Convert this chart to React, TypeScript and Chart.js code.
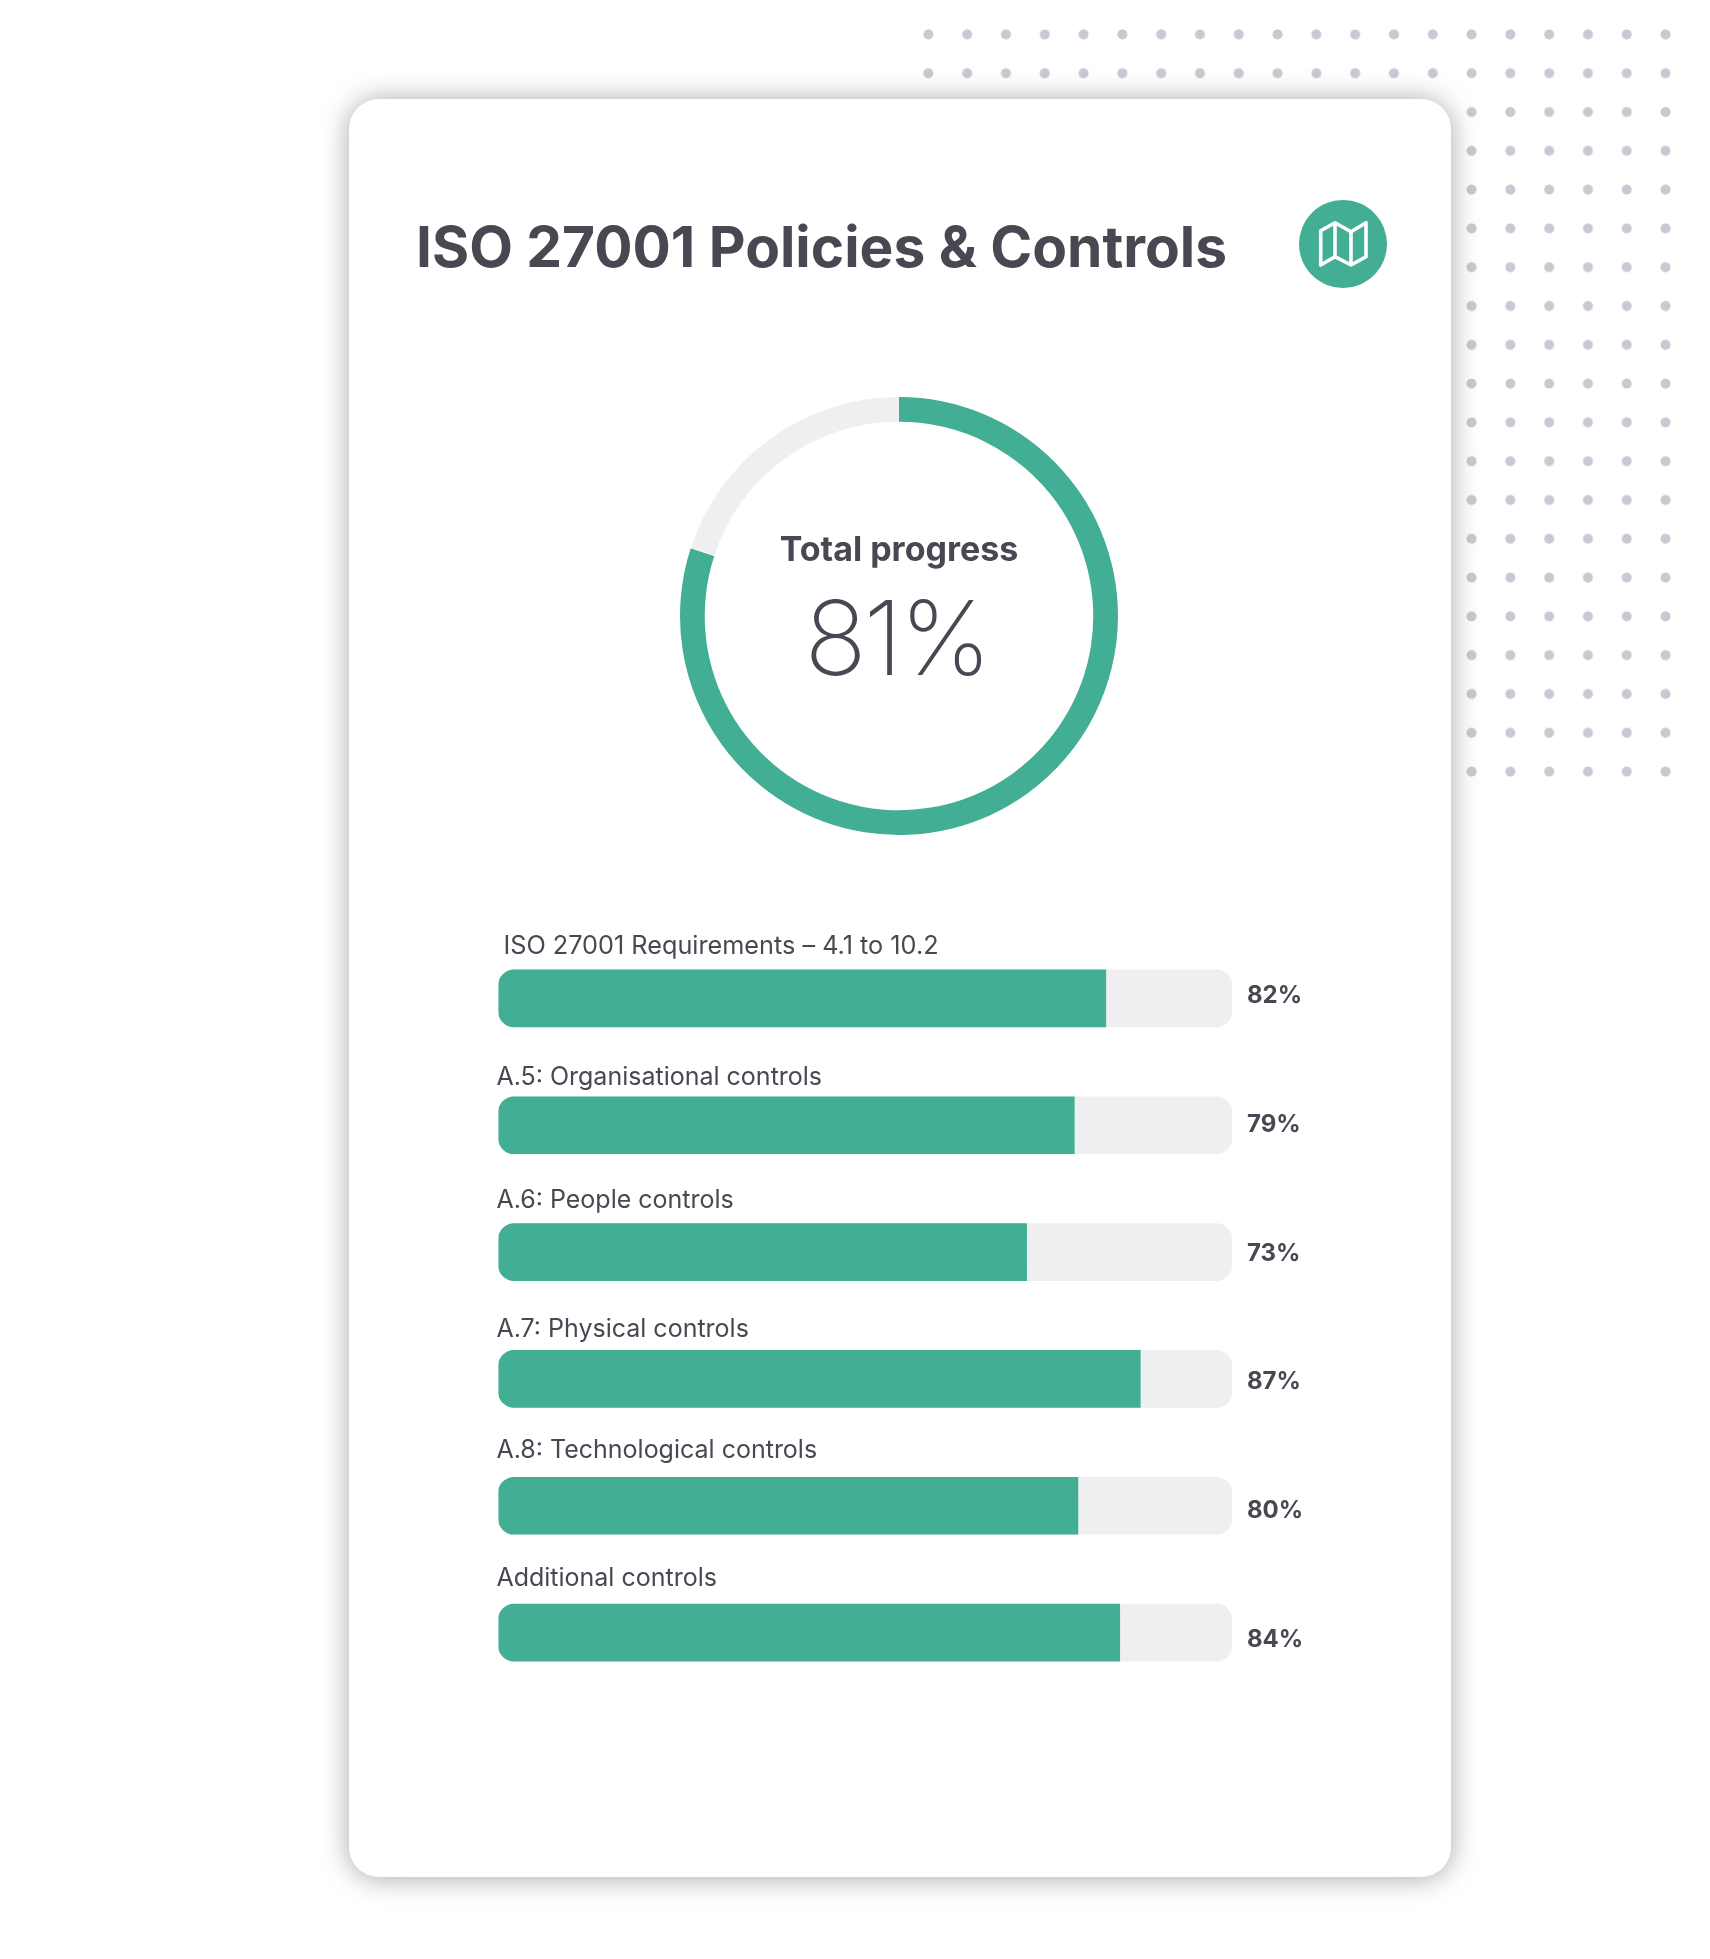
import React, { useEffect, useRef } from "react";
import { Chart, registerables } from "chart.js";

Chart.register(...registerables);

const categories = [
  "ISO 27001 Requirements – 4.1 to 10.2",
  "A.5: Organisational controls",
  "A.6: People controls",
  "A.7: Physical controls",
  "A.8: Technological controls",
  "Additional controls",
];
const barFill = [82.8, 78.5, 72, 87.5, 79, 84.7];
const barTrack = [100, 100, 100, 100, 100, 100];
const percentLabels = ["82%", "79%", "73%", "87%", "80%", "84%"];
const donutValues = [80, 20];
const donutLabels = ["Complete", "Remaining"];
const titleText = "ISO 27001 Policies & Controls";
const centerTitle = "Total progress";
const centerValue = "81%";

// Layout only: vertical shift of each row's caption above its bar.
const captionShift = [-52, -48, -52, -49, -55.5, -54];

const GREEN = "#42ae94";
const GREY = "#efeff1";
const INK = "#484853";

export default function App() {
  const donutRef = useRef<HTMLCanvasElement>(null);
  const barRef = useRef<HTMLCanvasElement>(null);

  useEffect(() => {
    const centerPlugin = {
      id: "centerText",
      afterDraw(chart: any) {
        const { ctx, chartArea } = chart;
        const cx = (chartArea.left + chartArea.right) / 2;
        ctx.save();
        ctx.fillStyle = INK;
        ctx.textAlign = "center";
        ctx.textBaseline = "alphabetic";
        ctx.font = "700 34px Inter";
        ctx.fillText(centerTitle, cx, 165);
        ctx.font = "200 103px Inter";
        ctx.letterSpacing = "-3px";
        ctx.fillText(centerValue, cx - 2.5, 279);
        ctx.restore();
      },
    };
    const donut = new Chart(donutRef.current!, {
      type: "doughnut",
      data: {
        labels: donutLabels,
        datasets: [{ data: donutValues, backgroundColor: [GREEN, GREY], borderWidth: 0 }],
      },
      options: {
        animation: false,
        responsive: false,
        cutout: "88.7%",
        layout: { padding: 1 },
        plugins: { legend: { display: false }, tooltip: { enabled: false } },
      },
      plugins: [centerPlugin],
    });

    const rowLabelPlugin = {
      id: "rowLabels",
      afterDatasetsDraw(chart: any) {
        const { ctx, scales } = chart;
        ctx.save();
        ctx.fillStyle = INK;
        ctx.textBaseline = "middle";
        categories.forEach((name, i) => {
          const y = scales.y.getPixelForValue(i);
          ctx.textAlign = "left";
          ctx.font = `400 ${i === 0 ? 25.25 : 25}px Inter`;
          ctx.fillText(name, scales.x.left + (i === 0 ? 5 : -2), y + captionShift[i]);
          ctx.font = "700 24px Inter";
          ctx.fillText(percentLabels[i], scales.x.getPixelForValue(100) + 15, y - 2.5 + 1.9 * i);
        });
        ctx.restore();
      },
    };
    const bars = new Chart(barRef.current!, {
      type: "bar",
      data: {
        labels: categories,
        datasets: [
          {
            label: "Progress",
            data: barFill,
            backgroundColor: GREEN,
            barThickness: 57,
            grouped: false,
            order: 1,
            borderSkipped: false,
            borderRadius: { topLeft: 16, bottomLeft: 16, topRight: 0, bottomRight: 0 },
          },
          {
            label: "Track",
            data: barTrack,
            backgroundColor: GREY,
            barThickness: 57,
            grouped: false,
            order: 2,
            borderSkipped: false,
            borderRadius: 16,
          },
        ],
      },
      options: {
        indexAxis: "y",
        animation: false,
        responsive: false,
        layout: { padding: { left: 20.4, right: 106, top: 0, bottom: 0 } },
        scales: {
          x: { display: false, min: 0, max: 100 },
          y: { display: false },
        },
        plugins: { legend: { display: false }, tooltip: { enabled: false } },
      },
      plugins: [rowLabelPlugin],
    });
    return () => {
      donut.destroy();
      bars.destroy();
    };
  }, []);

  return (
    <div style={{ position: "absolute", left: 0, top: 0, width: 1710, height: 1959, overflow: "hidden", background: "#fff", fontFamily: "Inter" }}>
      <div
        style={{
          position: "absolute",
          left: 909,
          top: 15,
          width: 776,
          height: 776,
          backgroundImage: "radial-gradient(circle, #c9c9d3 4.6px, rgba(201,201,211,0) 5.4px)",
          backgroundSize: "38.8px 38.8px",
        }}
      />
      <div
        style={{
          position: "absolute",
          left: 349,
          top: 99,
          width: 1102,
          height: 1778,
          borderRadius: 30,
          background: "#fff",
          boxShadow: "0 1px 28px rgba(0,0,0,0.35)",
        }}
      />
      <div style={{ position: "absolute", left: 416, top: 210, fontSize: 56.8, fontWeight: 700, lineHeight: "74px", color: INK, whiteSpace: "nowrap" }}>
        {titleText}
      </div>
      <svg style={{ position: "absolute", left: 1299, top: 200 }} width={88} height={88} viewBox="0 0 88 88">
        <circle cx={44} cy={44} r={44} fill={GREEN} />
        <path
          d="M21.7 30.7 L36 22.7 L52 31.7 L67 22.7 L67 56.7 L52 65 L36 56.7 L21.7 65 Z M36 22.7 L36 56.7 M52 31.7 L52 65"
          fill="none"
          stroke="#fff"
          strokeWidth={3.6}
          strokeLinejoin="round"
        />
      </svg>
      <canvas ref={donutRef} width={440} height={440} style={{ position: "absolute", left: 679, top: 396 }} />
      <canvas ref={barRef} width={860} height={761} style={{ position: "absolute", left: 478, top: 935 }} />
    </div>
  );
}
